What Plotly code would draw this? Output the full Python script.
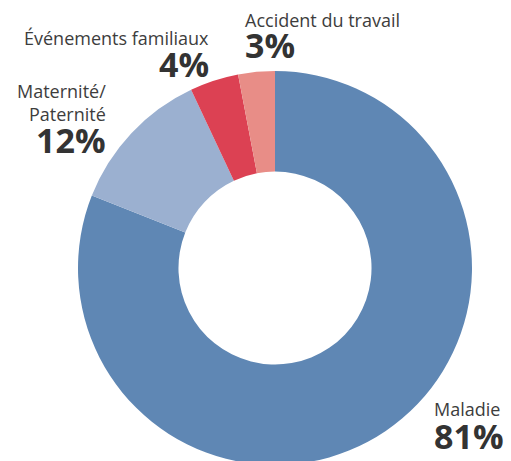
import plotly.graph_objects as go

categories = ["Maladie", "Maternité/<br>Paternité", "Événements familiaux", "Accident du travail"]
values = [81, 12, 4, 3]
pct_labels = ["81%", "12%", "4%", "3%"]
colors = ["#5f87b4", "#9bb0d0", "#dc4153", "#e88d87"]

W, H = 511, 465  # slightly taller than the window so the ring bottom is clipped like the reference

fig = go.Figure(go.Pie(
    labels=categories, values=values, sort=False, direction="clockwise",
    rotation=0, hole=0.49, marker=dict(colors=colors, line=dict(width=0)),
    textinfo="none", hoverinfo="label+percent", showlegend=False,
    domain=dict(x=[78 / W, 472 / W], y=[0, 394 / H]),
))

FONT = "Open Sans"

def px(x, y):
    return x / W, 1 - y / H

# (label text, pct text, x px, anchor, label center y, pct center y)
placements = [
    (categories[3], pct_labels[3], 243, "left", 20, 45),
    (categories[2], pct_labels[2], 211, "right", 38, 64),
    ("Maternité/<br>Paternité", pct_labels[1], 108, "right", 103, 140),
    (categories[0], pct_labels[0], 432, "left", 409, 436),
]
annotations = []
for lab, pct, x, anc, ly, py in placements:
    ax, ayl = px(x, ly)
    _, ayp = px(x, py)
    annotations.append(dict(text=lab, x=ax, y=ayl, xref="paper", yref="paper",
                            xanchor=anc, yanchor="middle", showarrow=False, align=anc,
                            font=dict(family=FONT, size=18, color="#3d3d3d")))
    annotations.append(dict(text="<b>" + pct + "</b>", x=ax, y=ayp, xref="paper", yref="paper",
                            xanchor=anc, yanchor="middle", showarrow=False, align=anc,
                            font=dict(family=FONT, size=34, color="#333333")))

fig.update_layout(width=W, height=H, margin=dict(l=0, r=0, t=0, b=0),
                  paper_bgcolor="white", plot_bgcolor="white",
                  annotations=annotations)

fig.write_html("out.html", config={"displayModeBar": False},
               post_script="document.body.style.margin='0';document.body.style.overflow='hidden';")
